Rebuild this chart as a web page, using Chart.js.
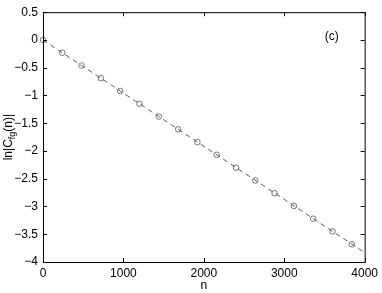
<!DOCTYPE html>
<html>
<head>
<meta charset="utf-8">
<script src="https://cdn.jsdelivr.net/npm/chart.js@4"></script>
<style>
  html, body { margin: 0; padding: 0; background: #fff; }
  #wrap { width: 382px; height: 293px; }
</style>
</head>
<body>
<div id="wrap"><canvas id="corrChart"></canvas></div>
<script>
// sampled points (circles)
const sampleN = [0, 240, 480, 720, 960, 1200, 1440, 1680, 1920, 2160, 2400, 2640, 2880, 3120, 3360, 3600, 3840];
const sampleLnC = [0, -0.23, -0.46, -0.69, -0.92, -1.15, -1.38, -1.61, -1.84, -2.07, -2.30, -2.53, -2.76, -2.99, -3.22, -3.45, -3.68];
// linear fit (dashed)
const fitN = [0, 4000];
const fitLnC = [0, -3.83];
const xTicks = [0, 1000, 2000, 3000, 4000];
const yTicks = [-4, -3.5, -3, -2.5, -2, -1.5, -1, -0.5, 0, 0.5];
const panelLabel = "(c)";

const FONT = "'Liberation Sans', Arial, sans-serif";

const toXY = (xs, ys) => xs.map((x, i) => ({ x, y: ys[i] }));

// box + inward ticks on all four sides, like matlab axes
const boxPlugin = {
  id: "boxTicks",
  afterDraw(chart) {
    const { ctx, chartArea: a, scales } = chart;
    const len = 4;
    ctx.save();
    ctx.strokeStyle = "#000";
    ctx.lineWidth = 1;
    ctx.strokeRect(a.left + 0.5, a.top + 0.5, a.right - a.left, a.bottom - a.top);
    ctx.beginPath();
    xTicks.forEach(v => {
      const px = Math.round(scales.x.getPixelForValue(v)) + 0.5;
      ctx.moveTo(px, a.bottom); ctx.lineTo(px, a.bottom - len);
      ctx.moveTo(px, a.top); ctx.lineTo(px, a.top + len);
    });
    yTicks.forEach(v => {
      const py = Math.round(scales.y.getPixelForValue(v)) + 0.5;
      ctx.moveTo(a.left, py); ctx.lineTo(a.left + len, py);
      ctx.moveTo(a.right, py); ctx.lineTo(a.right - len, py);
    });
    ctx.stroke();

    // panel label
    ctx.fillStyle = "#000";
    ctx.font = "12px " + FONT;
    ctx.textAlign = "center";
    ctx.textBaseline = "middle";
    ctx.fillText(panelLabel, scales.x.getPixelForValue(3590), scales.y.getPixelForValue(0.05));

    // y axis title with subscript
    const cy = (a.top + a.bottom) / 2;
    ctx.translate(12, cy);
    ctx.rotate(-Math.PI / 2);
    ctx.textAlign = "left";
    ctx.textBaseline = "alphabetic";
    const parts = [["ln|C", 12, 0], ["fg", 9, 3], ["(n)|", 12, 0]];
    let w = 0;
    parts.forEach(([t, s]) => { ctx.font = s + "px " + FONT; w += ctx.measureText(t).width; });
    let x = -w / 2;
    parts.forEach(([t, s, dy]) => {
      ctx.font = s + "px " + FONT;
      ctx.fillText(t, x, dy);
      x += ctx.measureText(t).width;
    });
    ctx.restore();
  }
};

new Chart(document.getElementById("corrChart"), {
  type: "scatter",
  data: {
    datasets: [
      {
        label: "fit",
        data: toXY(fitN, fitLnC),
        showLine: true,
        borderColor: "#333",
        borderWidth: 0.8,
        borderDash: [5, 4],
        pointRadius: 0,
        fill: false,
      },
      {
        label: "data",
        data: toXY(sampleN, sampleLnC),
        showLine: false,
        clip: false,
        pointStyle: "circle",
        pointRadius: 2.8,
        borderColor: "#555",
        borderWidth: 0.8,
        backgroundColor: "rgba(0,0,0,0)",
      },
    ],
  },
  options: {
    responsive: true,
    maintainAspectRatio: false,
    animation: false,
    layout: { padding: { left: 0, right: 17, top: 10, bottom: 0 } },
    plugins: {
      legend: { display: false },
      tooltip: { enabled: false },
    },
    scales: {
      x: {
        type: "linear",
        min: 0,
        max: 4000,
        afterBuildTicks: (s) => { s.ticks = xTicks.map(v => ({ value: v })); },
        afterFit: (s) => { s.height = 31; },
        grid: { display: false, drawTicks: false },
        border: { display: false },
        ticks: {
          color: "#000",
          padding: 4,
          maxRotation: 0,
          font: { size: 12, family: FONT },
          callback: (v) => String(v),
        },
        title: { display: true, text: "n", color: "#000", padding: { top: 0, bottom: 0 }, font: { size: 12, family: FONT } },
      },
      y: {
        type: "linear",
        min: -4,
        max: 0.5,
        afterBuildTicks: (s) => { s.ticks = yTicks.map(v => ({ value: v })); },
        afterFit: (s) => { s.width = 43; },
        grid: { display: false, drawTicks: false },
        border: { display: false },
        ticks: {
          color: "#000",
          padding: 5,
          font: { size: 12, family: FONT },
          callback: (v) => String(v).replace("-", "\u2212"),
        },
      },
    },
  },
  plugins: [boxPlugin],
});
</script>
</body>
</html>
